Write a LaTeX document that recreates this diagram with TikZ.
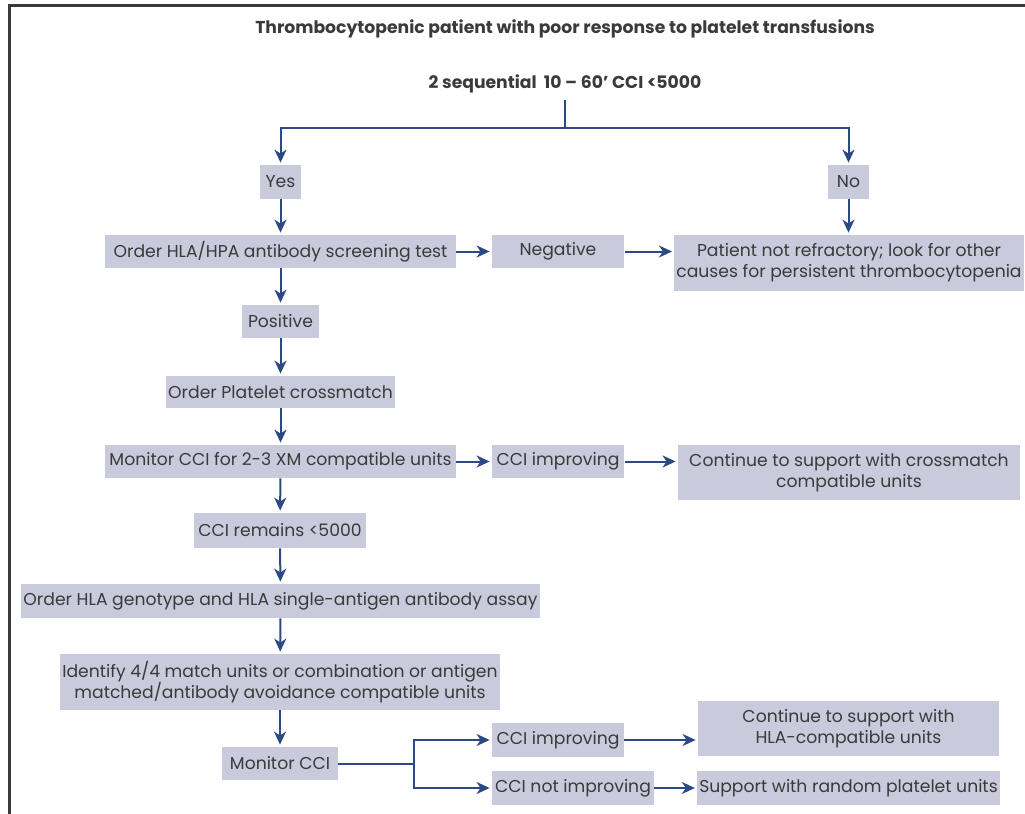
\documentclass[tikz,border=0pt]{standalone}
\usepackage{fontspec}
\setmainfont{Poppins}
\usetikzlibrary{arrows.meta}
\definecolor{boxfill}{HTML}{C9CADC}
\definecolor{linkblue}{HTML}{2B4A85}
\definecolor{txt}{HTML}{3A3A3A}
\begin{document}
\begin{tikzpicture}[x=0.5pt, y=-0.5pt,
    box/.style={fill=boxfill, text=txt, inner sep=1pt, align=center,
        font=\fontsize{8.6}{10.6}\selectfont},
    arr/.style={draw=linkblue, line width=1pt,
        -{Stealth[length=6.5pt, width=6pt, inset=2pt]}, shorten >=1pt}]
    \useasboundingbox (0,0) rectangle (1025,814);
    % frame
    \draw[line width=1.5pt, txt] (9,814) -- (9,5) -- (1025,5);

    % title and criterion
    \node[text=txt, font=\fontsize{8.6}{10}\selectfont\bfseries] (title) at (565,29)
        {Thrombocytopenic patient with poor response to platelet transfusions};
    \node[text=txt, font=\fontsize{8.6}{10}\selectfont\bfseries] (crit) at (565,84)
        {2 sequential\ \ 10 – 60' CCI <5000};

    % yes / no
    \node[box, minimum width=20.5pt, minimum height=17pt] (yes) at (280.5,182) {Yes};
    \node[box, minimum width=20.5pt, minimum height=17pt] (no) at (848.5,182) {No};

    % antibody screening
    \node[box, minimum width=175.5pt, minimum height=16.5pt] (screen) at (280.5,251.5)
        {Order HLA/HPA antibody screening test};
    \node[box, minimum width=66pt, minimum height=16.5pt] (neg) at (558,251.5) {Negative};
    \node[box, minimum width=171pt, minimum height=28pt] (notref) at (849,263)
        {Patient not refractory; look for other\\causes for persistent thrombocytopenia};
    \node[box, minimum width=38.5pt, minimum height=16.5pt] (pos) at (280.5,321.5) {Positive};

    % crossmatch
    \node[box, minimum width=113.5pt, minimum height=16pt] (xm) at (280.5,392)
        {Order Platelet crossmatch};
    \node[box, minimum width=175.5pt, minimum height=16.5pt] (monxm) at (280.5,461.5)
        {Monitor CCI for 2-3 XM compatible units};
    \node[box, minimum width=66pt, minimum height=16.5pt] (impxm) at (558,461.5) {CCI improving};
    \node[box, minimum width=171pt, minimum height=27.5pt] (contxm) at (849,472.5)
        {Continue to support with crossmatch\\compatible units};
    \node[box, minimum width=86pt, minimum height=17.5pt] (remains) at (280,530.5)
        {CCI remains <5000};

    % HLA matching
    \node[box, minimum width=256.5pt, minimum height=17pt] (geno) at (280.5,601)
        {Order HLA genotype and HLA single-antigen antibody assay};
    \node[box, minimum width=215pt, minimum height=28pt] (ident) at (280,682)
        {Identify 4/4 match units or combination or antigen\\matched/antibody avoidance compatible units};
    \node[box, minimum width=58pt, minimum height=16.5pt] (moncci) at (280,763.5) {Monitor CCI};
    \node[box, minimum width=66pt, minimum height=17pt] (imphla) at (558,740) {CCI improving};
    \node[box, minimum width=150.5pt, minimum height=27.5pt] (conthla) at (848.5,728.5)
        {Continue to support with\\HLA-compatible units};
    \node[box, minimum width=81pt, minimum height=17pt] (notimp) at (573,788) {CCI not improving};
    \node[box, minimum width=150.5pt, minimum height=17pt] (random) at (848.5,788)
        {Support with random platelet units};

    % connectors
    \coordinate (split) at (565,128);
    \coordinate (fork) at (414,763.5);
    \draw[linkblue, line width=1pt] (crit.south) -- (split);
    \draw[arr] (split) -| (yes.north);
    \draw[arr] (split) -| (no.north);
    \draw[arr] (yes) -- (screen);
    \draw[arr] (no) -- (no |- notref.north);
    \draw[arr] (screen) -- (neg);
    \draw[arr] (neg.east) ++(1,0) -- (neg.east -| notref.west);
    \draw[arr] (screen) -- (pos);
    \draw[arr] (pos) -- (xm);
    \draw[arr] (xm) -- (monxm);
    \draw[arr] (monxm) -- (impxm);
    \draw[arr] (impxm.east) ++(1,0) -- (impxm.east -| contxm.west);
    \draw[arr] (monxm) -- (remains);
    \draw[arr] (remains) -- (geno);
    \draw[arr] (geno) -- (ident);
    \draw[arr] (ident) -- (moncci);
    \draw[linkblue, line width=1pt] (moncci.east) -- (fork);
    \draw[arr] (fork) |- (imphla.west);
    \draw[arr] (fork) |- (notimp.west);
    \draw[arr] (imphla.east) -- (imphla.east -| conthla.west);
    \draw[arr] (notimp) -- (random);
\end{tikzpicture}
\end{document}
